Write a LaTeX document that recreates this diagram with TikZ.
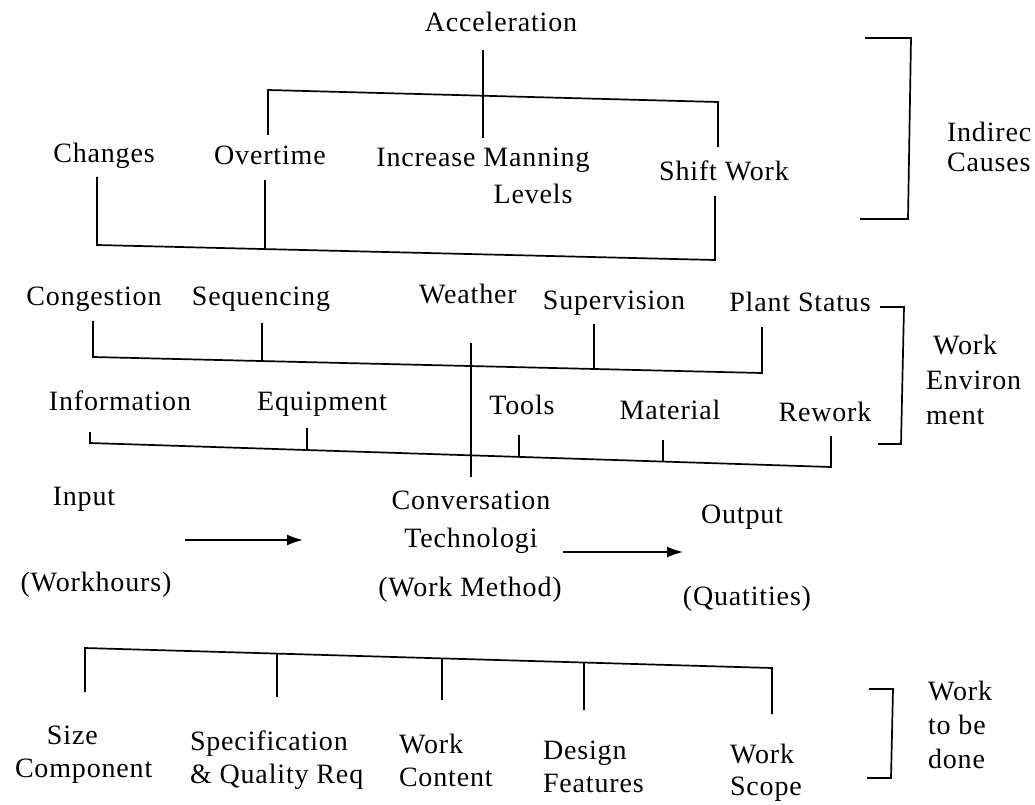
\documentclass[tikz,border=0pt]{standalone}
\usepackage{fontspec}
\setmainfont[LetterSpace=3]{Liberation Serif}
\usetikzlibrary{arrows.meta}
\begin{document}
\begin{tikzpicture}[x=1pt,y=-1pt,
  every node/.style={inner sep=0pt, outer sep=0pt, font=\fontsize{28}{33}\selectfont},
  lbl/.style={anchor=base, text height=19pt, text depth=6pt},
  mlbl/.style={anchor=north west, align=left},
  conn/.style={line width=1.7pt, line join=miter},
  arr/.style={line width=1.7pt, -{Latex[length=16pt,width=11pt]}}]
\useasboundingbox (0,0) rectangle (1035,805);
% ---------- indirect causes ----------
\node[lbl] (acc) at (501,32) {Acceleration};
\node[lbl] (chg) at (104,163) {Changes};
\node[lbl] (over) at (270,165) {Overtime};
\node[lbl] (incr) at (483,167) {Increase Manning};
\node[lbl] (lev) at (533,204) {Levels};
\node[lbl] (shift) at (724,180) {Shift Work};
\node[mlbl, font=\fontsize{28}{30}\selectfont] (ind) at (947,122) {Indirec\\Causes};
% ---------- work environment ----------
\node[lbl] (cong) at (94,305) {Congestion};
\node[lbl] (seq) at (261,305) {Sequencing};
\node[lbl] (wea) at (468,303) {Weather};
\node[lbl] (sup) at (614,309) {Supervision};
\node[lbl] (plant) at (800,311) {Plant Status};
\node[lbl] (info) at (120,410) {Information};
\node[lbl] (equip) at (322,410) {Equipment};
\node[lbl] (tools) at (522,414) {Tools};
\node[lbl] (mat) at (670,419) {Material};
\node[lbl] (rew) at (825,421) {Rework};
\node[mlbl, font=\fontsize{28}{35}\selectfont] (env) at (926,335) {\hspace*{7pt}Work\\Environ\\ment};
% ---------- process ----------
\node[lbl] (inp) at (84,505) {Input};
\node[anchor=north, align=center] (conv) at (471,491) {Conversation\\[5pt]Technologi};
\node[lbl] (out) at (742,523) {Output};
\node[lbl] (wh) at (96,591) {(Workhours)};
\node[lbl] (wm) at (470,596) {(Work Method)};
\node[lbl] (qt) at (747,605) {(Quatities)};
% ---------- work to be done ----------
\node[mlbl] (size) at (15,726) {\hspace*{32pt}Size\\Component};
\node[mlbl] (spec) at (190,731) {Specification\\\& Quality Req};
\node[mlbl] (cont) at (399,734) {Work\\Content};
\node[mlbl] (des) at (543,741) {Design\\Features};
\node[mlbl, font=\fontsize{28}{32}\selectfont] (scope) at (730,744) {Work\\Scope};
\node[mlbl, font=\fontsize{28}{34}\selectfont] (done) at (928,681) {Work\\to be\\done};
% ---------- junction coordinates ----------
\coordinate (t1) at (268,90);  \coordinate (t2) at (718,102);
\coordinate (b1) at (97,245);  \coordinate (b2) at (265,249); \coordinate (b3) at (715,260);
\coordinate (c1) at (93,357);  \coordinate (c2) at (262,361); \coordinate (c4) at (594,369); \coordinate (c5) at (762,373);
\coordinate (i1) at (90,443);  \coordinate (i2) at (307,450); \coordinate (i3) at (519,457); \coordinate (i4) at (663,462); \coordinate (i5) at (831,467);
\coordinate (d1) at (85,648);  \coordinate (d2) at (277,654); \coordinate (d3) at (442,659); \coordinate (d4) at (584,663); \coordinate (d5) at (772,668);
\coordinate (a1s) at (185,540); \coordinate (a1e) at (303,540);
\coordinate (a2s) at (563,552); \coordinate (a2e) at (683,552);
% ---------- connectors ----------
\draw[conn, shorten <=12pt, shorten >=10pt] (acc.south -| incr.south) -- (incr.north);
\draw[conn, shorten <=11pt, shorten >=14pt] (over.north -| t1) -- (t1) -- (t2) -- (shift.north -| t2);
\draw[conn, shorten <=8pt, shorten >=10pt] (chg.south -| b1) -- (b1) -- (b3) -- (shift.south -| b3);
\draw[conn, shorten <=9pt] (over.south -| b2) -- (b2);
\draw[conn, shorten <=10pt, shorten >=10pt] (cong.south -| c1) -- (c1) -- (c5) -- (plant.south -| c5);
\draw[conn, shorten <=12pt] (seq.south -| c2) -- (c2);
\draw[conn, shorten <=9pt] (sup.south -| c4) -- (c4);
\draw[conn, shorten <=16pt, shorten >=9pt] (info.south -| i1) -- (i1) -- (i5) -- (rew.south -| i5);
\draw[conn, shorten <=12pt] (equip.south -| i2) -- (i2);
\draw[conn, shorten <=15pt] (tools.south -| i3) -- (i3);
\draw[conn, shorten <=15pt] (mat.south -| i4) -- (i4);
\draw[conn, shorten <=34pt, shorten >=14pt] (wea.south -| conv.north) -- (conv.north);
\draw[arr] (a1s) -- (a1e);
\draw[arr] (a2s) -- (a2e);
\draw[conn, shorten <=34pt, shorten >=30pt] (size.north -| d1) -- (d1) -- (d5) -- (scope.north -| d5);
\draw[conn, shorten >=34pt] (d2) -- (d2 |- spec.north);
\draw[conn, shorten >=34pt] (d3) -- (d3 |- cont.north);
\draw[conn, shorten >=31pt] (d4) -- (d4 |- des.north);
% ---------- side brackets ----------
\draw[conn] (865,38) -- (911,38) -- (908,219) -- (860,219);
\draw[conn] (880,307) -- (904,307) -- (901,444) -- (878,444);
\draw[conn] (869,689) -- (893,689) -- (891,778) -- (867,778);
\end{tikzpicture}
\end{document}
